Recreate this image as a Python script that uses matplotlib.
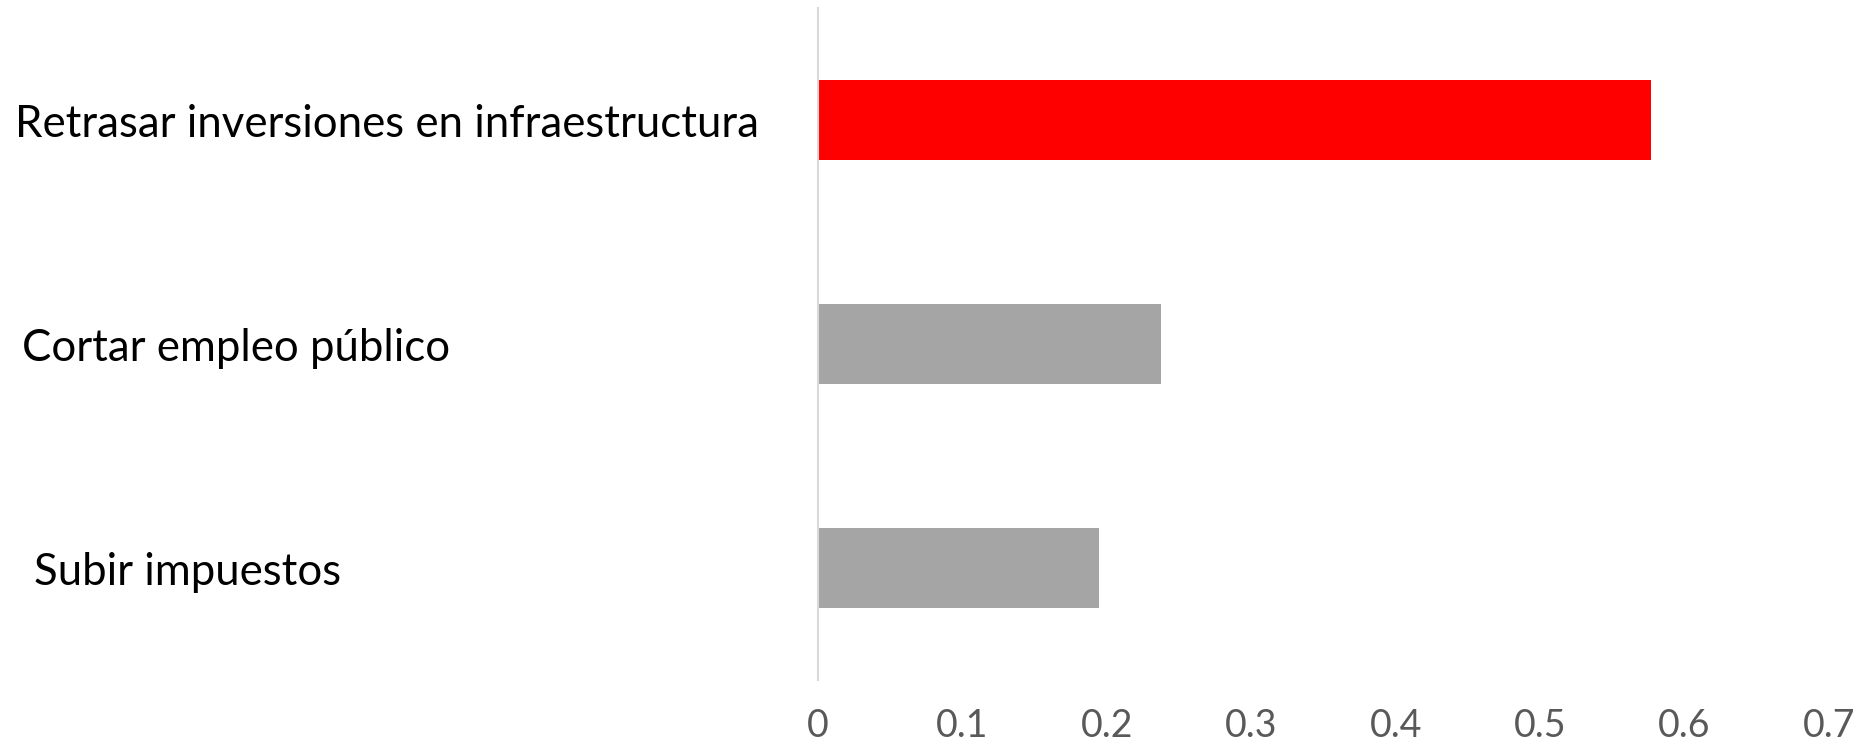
import matplotlib.pyplot as plt
import matplotlib.transforms as mtransforms

categorias = ["Retrasar inversiones en infraestructura", "Cortar empleo público", "Subir impuestos"]
valores = [0.577, 0.2375, 0.1946]
colores = ["#ff0000", "#a5a5a5", "#a5a5a5"]
ticks_x = [0, 0.1, 0.2, 0.3, 0.4, 0.5, 0.6, 0.7]
etiquetas_x = ["0", "0.1", "0.2", "0.3", "0.4", "0.5", "0.6", "0.7"]
# posicion horizontal (fraccion de la figura) de cada etiqueta de categoria
x_etiquetas = [0.008, 0.012, 0.018]

plt.rcParams['font.family'] = ['Lato', 'DejaVu Sans']

fig = plt.figure(figsize=(18.72, 7.48), dpi=100)
ax = fig.add_axes([0.437, 0.091, 0.540, 0.898])

pos = list(range(len(categorias)))
ax.barh(pos, valores, height=0.357, color=colores, linewidth=0)

ax.set_xlim(0, 0.7)
ax.set_ylim(2.5, -0.5)
ax.set_xticks(ticks_x)
ax.set_xticklabels(etiquetas_x)
ax.set_yticks([])
ax.tick_params(axis="x", length=0, pad=20, labelsize=27, labelcolor="#595959")

for lado in ["top", "right", "bottom"]:
    ax.spines[lado].set_visible(False)
ax.spines["left"].set_color("#d9d9d9")
ax.spines["left"].set_linewidth(1.5)

# etiquetas de categoria como cuadros de texto a la izquierda
trans = mtransforms.blended_transform_factory(fig.transFigure, ax.transData)
for i, (cat, xf) in enumerate(zip(categorias, x_etiquetas)):
    ax.text(xf, i + 0.02, cat, transform=trans, ha="left", va="center",
            fontsize=31.5, color="black", clip_on=False)

fig.savefig("out.png", dpi=100, facecolor="white")
